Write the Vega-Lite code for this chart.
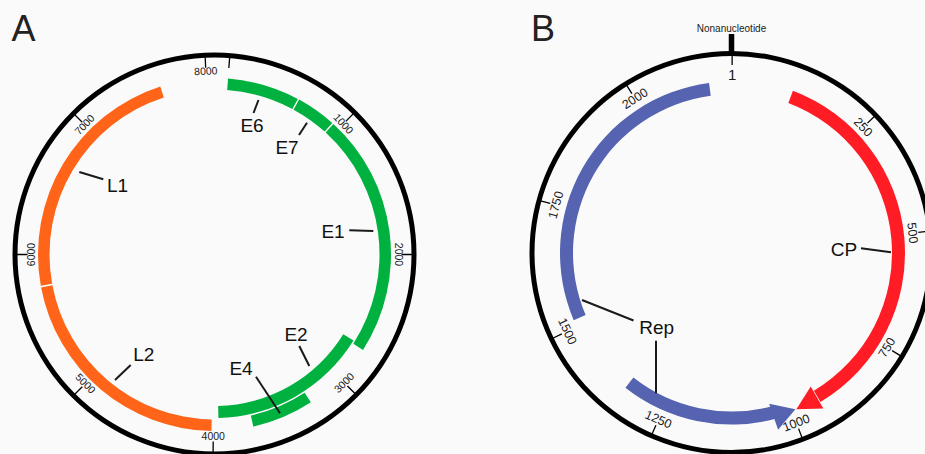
{
  "$schema": "https://vega.github.io/schema/vega-lite/v6.json",
  "width": 925,
  "height": 454,
  "padding": 0,
  "autosize": {"type": "none"},
  "background": "#fafafa",
  "config": {"view": {"stroke": null}, "text": {"font": "Liberation Sans"}},
  "datasets": {
    "panels": [{"panel": "A"}, {"panel": "B"}],
    "ticksA": [
      {"panel": "A", "pos": 0, "label": ""},
      {"panel": "A", "pos": 1000, "label": "1000"},
      {"panel": "A", "pos": 2000, "label": "2000"},
      {"panel": "A", "pos": 3000, "label": "3000"},
      {"panel": "A", "pos": 4000, "label": "4000"},
      {"panel": "A", "pos": 5000, "label": "5000"},
      {"panel": "A", "pos": 6000, "label": "6000"},
      {"panel": "A", "pos": 7000, "label": "7000"},
      {"panel": "A", "pos": 8000, "label": "8000"}
    ],
    "genesA": [
      {"panel": "A", "gene": "E6", "start": 0, "end": 591, "track": "outer", "group": "early"},
      {"panel": "A", "gene": "E7", "start": 603, "end": 932, "track": "outer", "group": "early"},
      {"panel": "A", "gene": "E1", "start": 944, "end": 2732, "track": "outer", "group": "early"},
      {"panel": "A", "gene": "E4", "start": 3267, "end": 3713, "track": "outer", "group": "early"},
      {"panel": "A", "gene": "E2", "start": 2711, "end": 3961, "track": "inner", "group": "early"},
      {"panel": "A", "gene": "L2", "start": 4013, "end": 5761, "track": "outer", "group": "late"},
      {"panel": "A", "gene": "L1", "start": 5773, "end": 7641, "track": "outer", "group": "late"}
    ],
    "ticksB": [
      {"panel": "B", "pos": 1, "label": "1"},
      {"panel": "B", "pos": 250, "label": "250"},
      {"panel": "B", "pos": 500, "label": "500"},
      {"panel": "B", "pos": 750, "label": "750"},
      {"panel": "B", "pos": 1000, "label": "1000"},
      {"panel": "B", "pos": 1250, "label": "1250"},
      {"panel": "B", "pos": 1500, "label": "1500"},
      {"panel": "B", "pos": 1750, "label": "1750"},
      {"panel": "B", "pos": 2000, "label": "2000"}
    ],
    "genesB": [
      {"panel": "B", "gene": "Rep", "start": 1515, "end": 2143},
      {"panel": "B", "gene": "Rep", "start": 1034, "end": 1339},
      {"panel": "B", "gene": "CP", "start": 112, "end": 934}
    ],
    "motif": [{"panel": "B", "pos": 0, "label": "Nonanucleotide"}],
    "arrows": [
      {"gene": "Rep", "x": 784.5, "y": 413},
      {"gene": "CP", "x": 806.7, "y": 403.4}
    ],
    "leaders": [
      {"gene": "E6", "x": 258.5, "y": 100, "x2": 253.5, "y2": 113},
      {"gene": "E7", "x": 307, "y": 122.7, "x2": 299, "y2": 135},
      {"gene": "L1", "x": 79.3, "y": 172, "x2": 103.3, "y2": 179.3},
      {"gene": "E1", "x": 349.3, "y": 230.3, "x2": 373.3, "y2": 231},
      {"gene": "E2", "x": 299.3, "y": 346, "x2": 309.3, "y2": 366},
      {"gene": "L2", "x": 130.7, "y": 365, "x2": 115, "y2": 380},
      {"gene": "E4", "x": 256, "y": 376.7, "x2": 280, "y2": 413.3},
      {"gene": "CP", "x": 861, "y": 248.3, "x2": 891, "y2": 252.3},
      {"gene": "Rep", "x": 582, "y": 300, "x2": 633.5, "y2": 320.5},
      {"gene": "Rep", "x": 656, "y": 340.7, "x2": 656, "y2": 393.3}
    ],
    "labels": [
      {"text": "E6", "x": 252, "y": 126},
      {"text": "E7", "x": 287, "y": 148},
      {"text": "L1", "x": 117.5, "y": 186},
      {"text": "E1", "x": 333, "y": 232},
      {"text": "E2", "x": 296, "y": 335},
      {"text": "L2", "x": 143.7, "y": 354.5},
      {"text": "E4", "x": 241, "y": 369},
      {"text": "CP", "x": 844, "y": 250},
      {"text": "Rep", "x": 656.7, "y": 327.5}
    ],
    "letters": [
      {"text": "A", "x": 23.5, "y": 30},
      {"text": "B", "x": 543, "y": 30}
    ]
  },
  "layer": [
    {
      "data": {"name": "panels"},
      "mark": {"type": "arc", "theta": 0, "theta2": 6.2832, "radius": 202, "radius2": 197, "fill": "#000000"},
      "encoding": {
        "x": {"field": "panel", "type": "nominal", "scale": {"type": "point", "domain": ["A", "B"], "range": [214.5, 731.5], "padding": 0}, "axis": null},
        "y": {"field": "panel", "type": "nominal", "scale": {"type": "point", "domain": ["A", "B"], "range": [254.5, 253], "padding": 0}, "axis": null}
      }
    },
    {
      "data": {"name": "ticksA"},
      "mark": {"type": "arc", "filled": false, "stroke": "#000000", "strokeWidth": 1.3, "radius": 198, "radius2": 187},
      "encoding": {
        "x": {"field": "panel", "type": "nominal", "scale": {"type": "point", "domain": ["A", "B"], "range": [214.5, 731.5], "padding": 0}, "axis": null},
        "y": {"field": "panel", "type": "nominal", "scale": {"type": "point", "domain": ["A", "B"], "range": [254.5, 253], "padding": 0}, "axis": null},
        "theta": {"field": "pos", "type": "quantitative", "stack": null, "scale": {"domain": [0, 1000, 2000, 3000, 4000, 5000, 6000, 7000, 8000], "range": [0.0768, 0.7784, 1.5708, 2.351, 3.1486, 3.927, 4.7124, 5.4978, 6.236], "zero": false, "nice": false}},
        "theta2": {"field": "pos"}
      }
    },
    {
      "data": {"name": "ticksA"},
      "transform": [{"filter": "datum.label != ''"}],
      "mark": {"type": "text", "radius": 183, "fontSize": 10.5, "align": "center", "baseline": "middle", "color": "#1a1a1a"},
      "encoding": {
        "x": {"field": "panel", "type": "nominal", "scale": {"type": "point", "domain": ["A", "B"], "range": [214.5, 731.5], "padding": 0}, "axis": null},
        "y": {"field": "panel", "type": "nominal", "scale": {"type": "point", "domain": ["A", "B"], "range": [254.5, 253], "padding": 0}, "axis": null},
        "theta": {"field": "pos", "type": "quantitative", "scale": {"domain": [0, 1000, 2000, 3000, 4000, 5000, 6000, 7000, 8000], "range": [0.0768, 0.7784, 1.5708, 2.351, 3.1486, 3.927, 4.7124, 5.4978, 6.236], "zero": false, "nice": false}},
        "angle": {"field": "pos", "type": "quantitative", "scale": {"domain": [0, 2000, 2000.01, 5999.99, 6000, 8000], "range": [4.4, 90, -90, 90, -90, -2.7], "zero": false, "nice": false}},
        "text": {"field": "label"}
      }
    },
    {
      "data": {"name": "genesA"},
      "transform": [{"filter": "datum.track == 'outer'"}],
      "mark": {"type": "arc", "radius": 176.5, "radius2": 165},
      "encoding": {
        "x": {"field": "panel", "type": "nominal", "scale": {"type": "point", "domain": ["A", "B"], "range": [214.5, 731.5], "padding": 0}, "axis": null},
        "y": {"field": "panel", "type": "nominal", "scale": {"type": "point", "domain": ["A", "B"], "range": [254.5, 253], "padding": 0}, "axis": null},
        "theta": {"field": "start", "type": "quantitative", "stack": null, "scale": {"domain": [0, 1000, 2000, 3000, 4000, 5000, 6000, 7000, 8000], "range": [0.0768, 0.7784, 1.5708, 2.351, 3.1486, 3.927, 4.7124, 5.4978, 6.236], "zero": false, "nice": false}},
        "theta2": {"field": "end"},
        "color": {"field": "group", "type": "nominal", "scale": {"domain": ["early", "late"], "range": ["#00b140", "#ff6419"]}, "legend": null}
      }
    },
    {
      "data": {"name": "genesA"},
      "transform": [{"filter": "datum.track == 'inner'"}],
      "mark": {"type": "arc", "radius": 163.5, "radius2": 151.5},
      "encoding": {
        "x": {"field": "panel", "type": "nominal", "scale": {"type": "point", "domain": ["A", "B"], "range": [214.5, 731.5], "padding": 0}, "axis": null},
        "y": {"field": "panel", "type": "nominal", "scale": {"type": "point", "domain": ["A", "B"], "range": [254.5, 253], "padding": 0}, "axis": null},
        "theta": {"field": "start", "type": "quantitative", "stack": null, "scale": {"domain": [0, 1000, 2000, 3000, 4000, 5000, 6000, 7000, 8000], "range": [0.0768, 0.7784, 1.5708, 2.351, 3.1486, 3.927, 4.7124, 5.4978, 6.236], "zero": false, "nice": false}},
        "theta2": {"field": "end"},
        "color": {"field": "group", "type": "nominal", "scale": {"domain": ["early", "late"], "range": ["#00b140", "#ff6419"]}, "legend": null}
      }
    },
    {
      "data": {"name": "ticksB"},
      "mark": {"type": "arc", "filled": false, "stroke": "#000000", "strokeWidth": 1.3, "radius": 198, "radius2": 188},
      "encoding": {
        "x": {"field": "panel", "type": "nominal", "scale": {"type": "point", "domain": ["A", "B"], "range": [214.5, 731.5], "padding": 0}, "axis": null},
        "y": {"field": "panel", "type": "nominal", "scale": {"type": "point", "domain": ["A", "B"], "range": [254.5, 253], "padding": 0}, "axis": null},
        "theta": {"field": "pos", "type": "quantitative", "stack": null, "scale": {"domain": [0, 250, 500, 750, 1000, 1250, 1500, 1750, 2000, 2187], "range": [0, 0.8081, 1.4608, 2.1171, 2.7768, 3.5552, 4.2673, 4.9794, 5.7247, 6.2832], "zero": false, "nice": false}},
        "theta2": {"field": "pos"}
      }
    },
    {
      "data": {"name": "ticksB"},
      "transform": [{"filter": "datum.pos > 1"}],
      "mark": {"type": "text", "radius": 182, "fontSize": 12.5, "align": "center", "baseline": "middle", "color": "#1a1a1a"},
      "encoding": {
        "x": {"field": "panel", "type": "nominal", "scale": {"type": "point", "domain": ["A", "B"], "range": [214.5, 731.5], "padding": 0}, "axis": null},
        "y": {"field": "panel", "type": "nominal", "scale": {"type": "point", "domain": ["A", "B"], "range": [254.5, 253], "padding": 0}, "axis": null},
        "theta": {"field": "pos", "type": "quantitative", "scale": {"domain": [0, 250, 500, 750, 1000, 1250, 1500, 1750, 2000, 2187], "range": [0, 0.8081, 1.4608, 2.1171, 2.7768, 3.5552, 4.2673, 4.9794, 5.7247, 6.2832], "zero": false, "nice": false}},
        "angle": {"field": "pos", "type": "quantitative", "scale": {"domain": [0, 250, 500, 542, 542.01, 750, 1000, 1250, 1500, 1656, 1656.01, 1750, 2000, 2187], "range": [0, 46.3, 83.7, 90, -90, -58.7, -20.9, 23.7, 64.5, 90, -90, -74.7, -32, 0], "zero": false, "nice": false}},
        "text": {"field": "label"}
      }
    },
    {
      "data": {"name": "ticksB"},
      "transform": [{"filter": "datum.pos == 1"}],
      "mark": {"type": "text", "radius": 178, "fontSize": 15, "align": "center", "baseline": "middle", "color": "#1a1a1a"},
      "encoding": {
        "x": {"field": "panel", "type": "nominal", "scale": {"type": "point", "domain": ["A", "B"], "range": [214.5, 731.5], "padding": 0}, "axis": null},
        "y": {"field": "panel", "type": "nominal", "scale": {"type": "point", "domain": ["A", "B"], "range": [254.5, 253], "padding": 0}, "axis": null},
        "theta": {"field": "pos", "type": "quantitative", "scale": {"domain": [0, 250, 500, 750, 1000, 1250, 1500, 1750, 2000, 2187], "range": [0, 0.8081, 1.4608, 2.1171, 2.7768, 3.5552, 4.2673, 4.9794, 5.7247, 6.2832], "zero": false, "nice": false}},
        "text": {"field": "label"}
      }
    },
    {
      "data": {"name": "motif"},
      "mark": {"type": "arc", "filled": false, "stroke": "#000000", "strokeWidth": 5.5, "radius": 219, "radius2": 199},
      "encoding": {
        "x": {"field": "panel", "type": "nominal", "scale": {"type": "point", "domain": ["A", "B"], "range": [214.5, 731.5], "padding": 0}, "axis": null},
        "y": {"field": "panel", "type": "nominal", "scale": {"type": "point", "domain": ["A", "B"], "range": [254.5, 253], "padding": 0}, "axis": null},
        "theta": {"field": "pos", "type": "quantitative", "stack": null, "scale": {"domain": [0, 250, 500, 750, 1000, 1250, 1500, 1750, 2000, 2187], "range": [0, 0.8081, 1.4608, 2.1171, 2.7768, 3.5552, 4.2673, 4.9794, 5.7247, 6.2832], "zero": false, "nice": false}},
        "theta2": {"field": "pos"}
      }
    },
    {
      "data": {"name": "motif"},
      "mark": {"type": "text", "radius": 224, "fontSize": 10, "align": "center", "baseline": "middle", "color": "#1a1a1a"},
      "encoding": {
        "x": {"field": "panel", "type": "nominal", "scale": {"type": "point", "domain": ["A", "B"], "range": [214.5, 731.5], "padding": 0}, "axis": null},
        "y": {"field": "panel", "type": "nominal", "scale": {"type": "point", "domain": ["A", "B"], "range": [254.5, 253], "padding": 0}, "axis": null},
        "theta": {"field": "pos", "type": "quantitative", "scale": {"domain": [0, 250, 500, 750, 1000, 1250, 1500, 1750, 2000, 2187], "range": [0, 0.8081, 1.4608, 2.1171, 2.7768, 3.5552, 4.2673, 4.9794, 5.7247, 6.2832], "zero": false, "nice": false}},
        "text": {"field": "label"}
      }
    },
    {
      "data": {"name": "genesB"},
      "transform": [{"filter": "datum.gene == 'Rep'"}],
      "mark": {"type": "arc", "radius": 171.5, "radius2": 158.5, "fill": "#5563b0"},
      "encoding": {
        "x": {"field": "panel", "type": "nominal", "scale": {"type": "point", "domain": ["A", "B"], "range": [214.5, 731.5], "padding": 0}, "axis": null},
        "y": {"field": "panel", "type": "nominal", "scale": {"type": "point", "domain": ["A", "B"], "range": [254.5, 253], "padding": 0}, "axis": null},
        "theta": {"field": "start", "type": "quantitative", "stack": null, "scale": {"domain": [0, 250, 500, 750, 1000, 1250, 1500, 1750, 2000, 2187], "range": [0, 0.8081, 1.4608, 2.1171, 2.7768, 3.5552, 4.2673, 4.9794, 5.7247, 6.2832], "zero": false, "nice": false}},
        "theta2": {"field": "end"}
      }
    },
    {
      "data": {"name": "genesB"},
      "transform": [{"filter": "datum.gene == 'CP'"}],
      "mark": {"type": "arc", "radius": 173.5, "radius2": 160.5, "fill": "#ff1c24"},
      "encoding": {
        "x": {"field": "panel", "type": "nominal", "scale": {"type": "point", "domain": ["A", "B"], "range": [214.5, 731.5], "padding": 0}, "axis": null},
        "y": {"field": "panel", "type": "nominal", "scale": {"type": "point", "domain": ["A", "B"], "range": [254.5, 253], "padding": 0}, "axis": null},
        "theta": {"field": "start", "type": "quantitative", "stack": null, "scale": {"domain": [0, 250, 500, 750, 1000, 1250, 1500, 1750, 2000, 2187], "range": [0, 0.8081, 1.4608, 2.1171, 2.7768, 3.5552, 4.2673, 4.9794, 5.7247, 6.2832], "zero": false, "nice": false}},
        "theta2": {"field": "end"}
      }
    },
    {
      "data": {"name": "arrows"},
      "transform": [{"filter": "datum.gene == 'Rep'"}],
      "mark": {"type": "point", "filled": true, "opacity": 1, "strokeWidth": 0, "color": "#5563b0", "shape": "M-1,-1.2L1,0L-1,1.2Z", "size": 529, "angle": -18.9},
      "encoding": {
        "x": {"field": "x", "type": "quantitative", "scale": {"domain": [0, 925], "nice": false, "zero": false}, "axis": null},
        "y": {"field": "y", "type": "quantitative", "scale": {"domain": [0, 454], "reverse": true, "nice": false, "zero": false}, "axis": null}
      }
    },
    {
      "data": {"name": "arrows"},
      "transform": [{"filter": "datum.gene == 'CP'"}],
      "mark": {"type": "point", "filled": true, "opacity": 1, "strokeWidth": 0, "color": "#ff1c24", "shape": "M-1,-1.07L1,0L-1,1.07Z", "size": 566, "angle": 150.3},
      "encoding": {
        "x": {"field": "x", "type": "quantitative", "scale": {"domain": [0, 925], "nice": false, "zero": false}, "axis": null},
        "y": {"field": "y", "type": "quantitative", "scale": {"domain": [0, 454], "reverse": true, "nice": false, "zero": false}, "axis": null}
      }
    },
    {
      "data": {"name": "leaders"},
      "mark": {"type": "rule", "color": "#1a1a1a", "strokeWidth": 2},
      "encoding": {
        "x": {"field": "x", "type": "quantitative", "scale": {"domain": [0, 925], "nice": false, "zero": false}, "axis": null},
        "y": {"field": "y", "type": "quantitative", "scale": {"domain": [0, 454], "reverse": true, "nice": false, "zero": false}, "axis": null},
        "x2": {"field": "x2"},
        "y2": {"field": "y2"}
      }
    },
    {
      "data": {"name": "labels"},
      "mark": {"type": "text", "fontSize": 19, "align": "center", "baseline": "middle", "color": "#111111"},
      "encoding": {
        "x": {"field": "x", "type": "quantitative", "scale": {"domain": [0, 925], "nice": false, "zero": false}, "axis": null},
        "y": {"field": "y", "type": "quantitative", "scale": {"domain": [0, 454], "reverse": true, "nice": false, "zero": false}, "axis": null},
        "text": {"field": "text"}
      }
    },
    {
      "data": {"name": "letters"},
      "mark": {"type": "text", "fontSize": 36, "align": "center", "baseline": "middle", "color": "#222222"},
      "encoding": {
        "x": {"field": "x", "type": "quantitative", "scale": {"domain": [0, 925], "nice": false, "zero": false}, "axis": null},
        "y": {"field": "y", "type": "quantitative", "scale": {"domain": [0, 454], "reverse": true, "nice": false, "zero": false}, "axis": null},
        "text": {"field": "text"}
      }
    }
  ],
  "resolve": {"scale": {"x": "independent", "y": "independent", "theta": "independent", "radius": "independent", "color": "independent", "angle": "independent"}}
}
